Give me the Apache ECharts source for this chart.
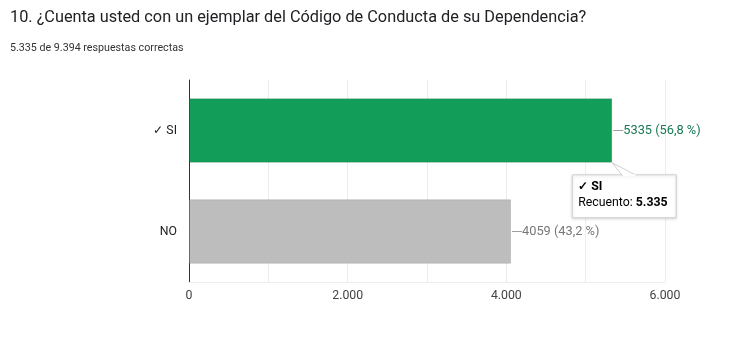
<!DOCTYPE html>
<html><head><meta charset="utf-8">
<script src="https://cdn.jsdelivr.net/npm/echarts@6/dist/echarts.min.js"></script>
<style>html,body{margin:0;padding:0;background:#fff}#c{width:733px;height:339px}</style>
</head><body><div id="c"></div>
<script>
var title = '10. ¿Cuenta usted con un ejemplar del Código de Conducta de su Dependencia?';
var subtitle = '5.335 de 9.394 respuestas correctas';
var categories = ['✓ SI', 'NO'];
var tipNames = ['✓ SI', 'NO'];
var values = [5335, 4059];
var percents = ['56,8 %', '43,2 %'];
var barColors = ['#129e58', '#bdbdbd'];
var labelColors = ['#1a7a55', '#777777'];
var xTicks = [0, 2000, 4000, 6000];

function fmt(n){ return String(n).replace(/\B(?=(\d{3})+(?!\d))/g, '.'); }

var chart = echarts.init(document.getElementById('c'));
var FONT = 'Roboto, Arial, sans-serif';
chart.setOption({
  animation: false,
  title: [
    {text: title, left: 5, top: 5, textStyle: {fontFamily: FONT, fontSize: 16.3, fontWeight: 'normal', color: '#202124'}},
    {text: subtitle, left: 5, top: 38, textStyle: {fontFamily: FONT, fontSize: 10.7, fontWeight: 'normal', color: '#333'}}
  ],
  grid: {left: 189, right: 68, top: 80, bottom: 57},
  xAxis: {
    type: 'value', min: 0, max: 6000, interval: 1000,
    axisLine: {show: true, lineStyle: {color: '#ececec'}},
    axisTick: {show: false},
    splitLine: {lineStyle: {color: '#ececec'}},
    axisLabel: {fontFamily: FONT, fontSize: 12.3, color: '#444', margin: 8,
      formatter: function(v){ return xTicks.indexOf(v) >= 0 ? fmt(v) : ''; }}
  },
  yAxis: {
    type: 'category', data: categories, inverse: true,
    axisLine: {show: true, lineStyle: {color: '#333'}},
    axisTick: {show: false},
    axisLabel: {fontFamily: FONT, fontSize: 12.3, color: '#222', margin: 12}
  },
  series: [{
    type: 'bar', barWidth: '64%',
    data: values.map(function(v, i){
      return {value: v, itemStyle: {color: barColors[i], borderColor: 'rgba(0,0,0,0.12)', borderWidth: 1},
        label: {color: labelColors[i]}};
    }),
    label: {
      show: true, position: 'right', distance: 1,
      fontFamily: FONT, fontSize: 12.8,
      formatter: function(p){ return '{l| }' + p.value + ' (' + percents[p.dataIndex] + ')'; },
      rich: {l: {width: 10, height: 1, backgroundColor: '#9e9e9e', padding: 0}}
    }
  }]
});

var corner = chart.convertToPixel({xAxisIndex: 0, yAxisIndex: 0}, [values[0], 0]);
var band = chart.getModel().getComponent('yAxis', 0).axis.getBandWidth();
var bx = corner[0], by = corner[1] + band * 0.32;
var boxX = bx - 40, boxY = by + 12, boxW = 104, boxH = 43;
chart.setOption({
  graphic: [
    {type: 'rect', shape: {x: boxX, y: boxY, width: boxW, height: boxH},
      style: {fill: '#fff', stroke: '#cfcfcf', lineWidth: 1, shadowBlur: 3, shadowColor: 'rgba(0,0,0,0.15)', shadowOffsetY: 1}, z: 100},
    {type: 'polygon', shape: {points: [[bx, by], [bx + 10, boxY + 0.5], [bx + 24, boxY + 0.5]]},
      style: {fill: '#fff', stroke: '#cfcfcf', lineWidth: 1}, z: 101},
    {type: 'rect', shape: {x: bx + 10.5, y: boxY - 0.5, width: 13, height: 2}, style: {fill: '#fff'}, z: 102},
    {type: 'text', x: boxX + 6, y: boxY + 12, z: 103,
      style: {text: tipNames[0], fontFamily: FONT, fontSize: 12.3, fontWeight: 'bold', fill: '#000', verticalAlign: 'middle'}},
    {type: 'text', x: boxX + 6, y: boxY + 28, z: 103,
      style: {text: '{a|Recuento: }{b|' + fmt(values[0]) + '}', verticalAlign: 'middle',
        rich: {a: {fontFamily: FONT, fontSize: 12.3, color: '#000'}, b: {fontFamily: FONT, fontSize: 12.3, fontWeight: 'bold', color: '#000'}}}}
  ]
});
</script></body></html>
